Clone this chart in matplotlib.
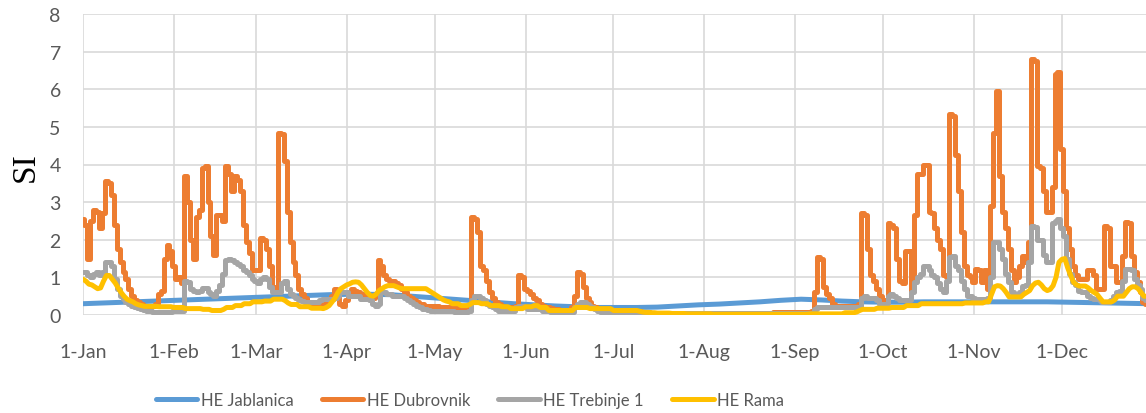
import matplotlib
matplotlib.use("Agg")
import matplotlib.pyplot as plt
import numpy as np

month_ticks = [0, 31, 59, 90, 120, 151, 181, 212, 243, 273, 304, 334]
month_labels = ["1-Jan", "1-Feb", "1-Mar", "1-Apr", "1-May", "1-Jun",
                "1-Jul", "1-Aug", "1-Sep", "1-Oct", "1-Nov", "1-Dec"]
series_names = ["HE Jablanica", "HE Dubrovnik", "HE Trebinje 1", "HE Rama"]

# HE Jablanica sampled weekly (day 0, 7, 14, ...)
jablanica = [0.30, 0.32, 0.34, 0.36, 0.38, 0.40, 0.42, 0.44, 0.46, 0.48,
             0.50, 0.52, 0.54, 0.55, 0.55, 0.54, 0.50, 0.46, 0.42, 0.38,
             0.34, 0.30, 0.27, 0.24, 0.22, 0.20, 0.20, 0.20, 0.21, 0.24,
             0.27, 0.29, 0.32, 0.35, 0.39, 0.42, 0.40, 0.37, 0.35, 0.34,
             0.34, 0.35, 0.35, 0.35, 0.35, 0.35, 0.35, 0.35, 0.34, 0.33,
             0.32, 0.31, 0.30]

dubrovnik = [
    2.55, 2.4, 1.5, 2.5, 2.8, 2.75, 2.3, 2.7, 3.55, 3.5,
    3.2, 2.4, 1.75, 1.4, 1.15, 0.95, 0.7, 0.5, 0.4, 0.35,
    0.3, 0.25, 0.2, 0.2, 0.25, 0.3, 0.55, 0.65, 1.5, 1.85,
    1.7, 1.3, 0.95, 1.0, 0.85, 3.7, 3.0, 2.0, 1.5, 2.6,
    2.8, 3.9, 3.95, 3.0, 2.1, 1.6, 2.65, 2.65, 2.5, 3.95,
    3.75, 3.3, 3.7, 3.6, 3.3, 2.4, 1.95, 1.65, 1.2, 1.2,
    1.2, 2.05, 2.0, 1.75, 1.3, 0.75, 0.7, 4.85, 4.8, 4.1,
    2.75, 1.95, 1.4, 1.05, 0.7, 0.55, 0.45, 0.35, 0.3, 0.3,
    0.3, 0.3, 0.3, 0.35, 0.4, 0.5, 0.7, 0.55, 0.3, 0.25,
    0.4, 0.6, 0.7, 0.65, 0.6, 0.55, 0.5, 0.5, 0.5, 0.45,
    0.5, 1.45, 1.3, 1.05, 0.95, 0.9, 0.9, 0.85, 0.8, 0.7,
    0.6, 0.5, 0.45, 0.4, 0.35, 0.3, 0.3, 0.25, 0.25, 0.25,
    0.25, 0.25, 0.22, 0.22, 0.2, 0.2, 0.2, 0.2, 0.2, 0.2,
    0.2, 0.2, 0.25, 2.6, 2.55, 2.2, 1.3, 1.2, 0.9, 0.6,
    0.45, 0.35, 0.3, 0.25, 0.2, 0.2, 0.2, 0.2, 0.25, 1.05,
    1.0, 0.7, 0.65, 0.55, 0.45, 0.4, 0.3, 0.25, 0.2, 0.2,
    0.18, 0.15, 0.15, 0.12, 0.12, 0.12, 0.12, 0.2, 0.5, 1.15,
    1.1, 0.75, 0.45, 0.35, 0.25, 0.2, 0.15, 0.12, 0.1, 0.08,
    0.08, 0.08, 0.08, 0.08, 0.08, 0.1, 0.1, 0.1, 0.1, 0.1,
    0.1, 0.08, 0.07, 0.07, 0.06, 0.06, 0.05, 0.05, 0.05, 0.05,
    0.05, 0.05, 0.05, 0.05, 0.05, 0.05, 0.05, 0.05, 0.05, 0.05,
    0.05, 0.05, 0.05, 0.05, 0.05, 0.05, 0.05, 0.05, 0.05, 0.05,
    0.05, 0.05, 0.05, 0.05, 0.05, 0.05, 0.05, 0.05, 0.05, 0.05,
    0.05, 0.05, 0.05, 0.05, 0.05, 0.06, 0.07, 0.08, 0.08, 0.08,
    0.08, 0.08, 0.08, 0.08, 0.08, 0.08, 0.08, 0.08, 0.08, 0.1,
    0.6, 1.55, 1.5, 0.75, 0.55, 0.45, 0.3, 0.25, 0.25, 0.25,
    0.25, 0.25, 0.25, 0.25, 0.25, 0.3, 2.7, 2.65, 1.75, 1.05,
    0.9, 0.7, 0.5, 0.4, 0.35, 2.45, 2.4, 2.3, 1.5, 0.9,
    0.85, 1.7, 1.7, 0.65, 2.65, 3.75, 3.75, 4.0, 4.0, 2.75,
    2.7, 2.3, 2.0, 1.75, 1.05, 1.0, 5.35, 5.3, 4.25, 3.3,
    2.2, 1.3, 1.05, 1.0, 0.87, 1.22, 1.2, 0.87, 1.2, 0.7,
    2.9, 4.85, 5.95, 3.7, 2.75, 2.3, 1.75, 1.2, 0.87, 1.0,
    1.3, 1.57, 1.4, 1.95, 6.8, 6.75, 3.97, 3.9, 3.3, 2.75,
    2.75, 3.4, 6.4, 6.45, 4.4, 3.3, 2.3, 1.75, 1.3, 1.05,
    0.95, 0.95, 0.95, 1.2, 1.2, 1.05, 0.7, 0.7, 0.7, 2.37,
    2.3, 1.3, 1.3, 0.87, 0.87, 1.57, 2.47, 2.45, 1.57, 1.15,
    0.87, 0.6, 0.35, 0.3, 0.3]

trebinje = [
    1.15, 1.15, 1.05, 1.0, 1.1, 1.15, 1.05, 1.15, 1.4, 1.4,
    1.3, 0.95, 0.7, 0.5, 0.42, 0.35, 0.3, 0.25, 0.2, 0.18,
    0.15, 0.12, 0.11, 0.1, 0.09, 0.08, 0.08, 0.08, 0.08, 0.08,
    0.08, 0.1, 0.1, 0.1, 0.1, 0.9, 0.87, 0.7, 0.65, 0.6,
    0.65, 0.73, 0.73, 0.6, 0.55, 0.5, 0.65, 0.8, 1.1, 1.45,
    1.5, 1.45, 1.4, 1.35, 1.3, 1.2, 1.15, 1.05, 0.95, 0.9,
    0.85, 0.95, 1.0, 0.95, 0.75, 0.6, 0.6, 0.6, 0.85, 0.9,
    0.7, 0.55, 0.5, 0.45, 0.4, 0.38, 0.35, 0.35, 0.35, 0.35,
    0.35, 0.4, 0.42, 0.42, 0.42, 0.42, 0.45, 0.5, 0.6, 0.6,
    0.6, 0.5, 0.5, 0.5, 0.5, 0.42, 0.42, 0.42, 0.4, 0.3,
    0.25, 0.3, 0.6, 0.6, 0.55, 0.55, 0.5, 0.5, 0.5, 0.5,
    0.45, 0.4, 0.35, 0.3, 0.25, 0.2, 0.17, 0.15, 0.12, 0.1,
    0.1, 0.1, 0.1, 0.1, 0.1, 0.1, 0.1, 0.07, 0.07, 0.07,
    0.07, 0.07, 0.1, 0.4, 0.5, 0.5, 0.45, 0.4, 0.3, 0.25,
    0.2, 0.15, 0.1, 0.1, 0.1, 0.1, 0.1, 0.1, 0.2, 0.25,
    0.25, 0.2, 0.15, 0.15, 0.15, 0.15, 0.15, 0.1, 0.1, 0.1,
    0.07, 0.07, 0.07, 0.07, 0.07, 0.07, 0.07, 0.07, 0.2, 0.3,
    0.35, 0.35, 0.3, 0.25, 0.2, 0.15, 0.1, 0.08, 0.08, 0.08,
    0.08, 0.08, 0.08, 0.06, 0.06, 0.05, 0.05, 0.05, 0.05, 0.05,
    0.05, 0.05, 0.05, 0.05, 0.05, 0.05, 0.05, 0.05, 0.05, 0.05,
    0.05, 0.05, 0.05, 0.05, 0.05, 0.05, 0.05, 0.05, 0.05, 0.05,
    0.05, 0.05, 0.05, 0.05, 0.05, 0.05, 0.05, 0.05, 0.05, 0.05,
    0.05, 0.05, 0.05, 0.05, 0.05, 0.05, 0.05, 0.05, 0.05, 0.05,
    0.05, 0.05, 0.05, 0.05, 0.05, 0.05, 0.05, 0.05, 0.05, 0.05,
    0.05, 0.05, 0.05, 0.05, 0.05, 0.05, 0.05, 0.05, 0.05, 0.05,
    0.15, 0.2, 0.2, 0.2, 0.2, 0.2, 0.2, 0.2, 0.2, 0.2,
    0.2, 0.2, 0.2, 0.2, 0.2, 0.2, 0.45, 0.5, 0.45, 0.45,
    0.45, 0.4, 0.3, 0.3, 0.3, 0.5, 0.55, 0.5, 0.45, 0.4,
    0.4, 0.4, 0.4, 0.6, 0.87, 1.0, 1.1, 1.3, 1.3, 1.2,
    1.05, 1.0, 0.85, 0.7, 0.6, 0.9, 1.55, 1.57, 1.3, 1.2,
    0.9, 0.7, 0.5, 0.5, 0.45, 0.42, 0.42, 0.42, 0.42, 0.45,
    1.0, 1.95, 1.95, 1.75, 1.5, 1.1, 0.87, 0.6, 0.5, 0.5,
    0.6, 0.77, 0.8, 1.4, 2.37, 2.35, 2.0, 2.0, 1.6, 1.4,
    1.4, 2.45, 2.5, 2.55, 2.3, 2.1, 1.5, 1.1, 0.87, 0.8,
    0.65, 0.6, 0.6, 0.5, 0.45, 0.42, 0.42, 0.4, 0.35, 0.35,
    0.35, 0.4, 0.5, 0.6, 0.65, 0.9, 1.22, 1.22, 1.2, 0.97,
    0.8, 0.7, 0.45, 0.4, 0.4]

rama = [
    0.95, 0.9, 0.82, 0.8, 0.75, 0.7, 0.72, 0.9, 1.05, 1.05,
    0.95, 0.85, 0.72, 0.6, 0.5, 0.42, 0.38, 0.35, 0.3, 0.27,
    0.25, 0.23, 0.23, 0.23, 0.23, 0.23, 0.22, 0.22, 0.22, 0.22,
    0.22, 0.2, 0.2, 0.2, 0.2, 0.17, 0.17, 0.17, 0.17, 0.17,
    0.17, 0.15, 0.15, 0.15, 0.12, 0.12, 0.12, 0.12, 0.15, 0.2,
    0.2, 0.2, 0.25, 0.25, 0.25, 0.3, 0.3, 0.3, 0.35, 0.35,
    0.35, 0.35, 0.37, 0.37, 0.37, 0.42, 0.42, 0.42, 0.42, 0.38,
    0.32, 0.28, 0.28, 0.28, 0.22, 0.22, 0.22, 0.22, 0.18, 0.18,
    0.18, 0.18, 0.17, 0.2, 0.25, 0.35, 0.45, 0.6, 0.7, 0.75,
    0.8, 0.83, 0.87, 0.88, 0.87, 0.8, 0.7, 0.6, 0.52, 0.5,
    0.55, 0.65, 0.7, 0.75, 0.78, 0.78, 0.78, 0.75, 0.72, 0.7,
    0.7, 0.7, 0.7, 0.7, 0.7, 0.7, 0.7, 0.7, 0.65, 0.6,
    0.55, 0.5, 0.45, 0.4, 0.37, 0.35, 0.3, 0.3, 0.3, 0.25,
    0.25, 0.25, 0.28, 0.33, 0.33, 0.33, 0.3, 0.3, 0.3, 0.25,
    0.25, 0.25, 0.25, 0.22, 0.22, 0.22, 0.17, 0.17, 0.17, 0.17,
    0.17, 0.22, 0.22, 0.22, 0.25, 0.25, 0.2, 0.2, 0.2, 0.12,
    0.12, 0.12, 0.12, 0.12, 0.12, 0.12, 0.12, 0.12, 0.2, 0.2,
    0.2, 0.2, 0.2, 0.17, 0.17, 0.17, 0.17, 0.17, 0.17, 0.17,
    0.17, 0.12, 0.12, 0.12, 0.12, 0.12, 0.12, 0.12, 0.12, 0.12,
    0.1, 0.08, 0.07, 0.07, 0.06, 0.06, 0.05, 0.05, 0.05, 0.05,
    0.05, 0.04, 0.04, 0.04, 0.04, 0.04, 0.03, 0.03, 0.03, 0.03,
    0.03, 0.03, 0.03, 0.03, 0.03, 0.02, 0.02, 0.02, 0.02, 0.02,
    0.02, 0.02, 0.02, 0.02, 0.02, 0.02, 0.02, 0.02, 0.02, 0.02,
    0.02, 0.02, 0.02, 0.02, 0.02, 0.02, 0.02, 0.02, 0.02, 0.02,
    0.02, 0.02, 0.02, 0.02, 0.02, 0.02, 0.02, 0.02, 0.03, 0.03,
    0.03, 0.03, 0.03, 0.03, 0.03, 0.03, 0.03, 0.03, 0.03, 0.03,
    0.06, 0.06, 0.06, 0.06, 0.08, 0.12, 0.15, 0.15, 0.15, 0.15,
    0.15, 0.18, 0.18, 0.18, 0.18, 0.18, 0.2, 0.2, 0.2, 0.2,
    0.2, 0.25, 0.25, 0.25, 0.25, 0.25, 0.3, 0.3, 0.3, 0.3,
    0.3, 0.3, 0.3, 0.3, 0.3, 0.3, 0.3, 0.3, 0.3, 0.3,
    0.3, 0.32, 0.32, 0.32, 0.32, 0.32, 0.32, 0.32, 0.35, 0.35,
    0.55, 0.75, 0.78, 0.77, 0.7, 0.6, 0.48, 0.48, 0.48, 0.48,
    0.48, 0.55, 0.6, 0.65, 0.78, 0.85, 0.87, 0.8, 0.7, 0.65,
    0.68, 0.78, 1.0, 1.4, 1.48, 1.5, 1.25, 1.05, 0.87, 0.8,
    0.77, 0.77, 0.77, 0.72, 0.65, 0.6, 0.55, 0.45, 0.35, 0.35,
    0.35, 0.35, 0.4, 0.5, 0.5, 0.5, 0.6, 0.7, 0.75, 0.75,
    0.7, 0.6, 0.5, 0.5, 0.5]

colors = ["#5B9BD5", "#ED7D31", "#A5A5A5", "#FFC000"]

fig = plt.figure(figsize=(11.46, 4.14), dpi=100)
ax = fig.add_axes([83 / 1146, 1 - 316 / 414, 1 - 83 / 1146, (316 - 15) / 414])

days_daily = np.arange(len(dubrovnik))
days_weekly = np.arange(len(jablanica)) * 7

lw = 3.6
common = dict(lw=lw, solid_joinstyle="round", solid_capstyle="round")
ax.plot(days_weekly, jablanica, color=colors[0], label=series_names[0], **common)
ax.plot(days_daily, dubrovnik, color=colors[1], label=series_names[1],
        drawstyle="steps-mid", **common)
ax.plot(days_daily, trebinje, color=colors[2], label=series_names[2],
        drawstyle="steps-mid", **common)
ax.plot(days_daily, rama, color=colors[3], label=series_names[3], **common)

ax.set_xlim(0, 362.7)
ax.set_ylim(0, 8)
ax.set_yticks(range(0, 9))
ax.set_xticks(month_ticks)
ax.set_xticklabels(month_labels)

tick_font = "Lato"
for lab in ax.get_yticklabels() + ax.get_xticklabels():
    lab.set_fontfamily(tick_font)
    lab.set_fontsize(14)
    lab.set_color("#595959")

ax.tick_params(axis="both", length=0)
ax.tick_params(axis="y", pad=16)
ax.tick_params(axis="x", pad=20)
ax.grid(True, color="#D9D9D9", lw=1.2)
ax.set_axisbelow(True)
for s in ax.spines.values():
    s.set_visible(False)

fig.text(0.022, 1 - 167 / 414, "SI", rotation=90, ha="center", va="center",
         fontsize=24, fontfamily="Liberation Serif", color="black")

leg = fig.legend(loc="center", bbox_to_anchor=(470 / 1146, 1 - 401 / 414), ncol=4,
                 frameon=False, prop={"family": tick_font, "size": 12},
                 handlelength=2.5, handletextpad=0.2, columnspacing=1.7)
for t in leg.get_texts():
    t.set_color("#595959")

fig.savefig("out.png", dpi=100)
